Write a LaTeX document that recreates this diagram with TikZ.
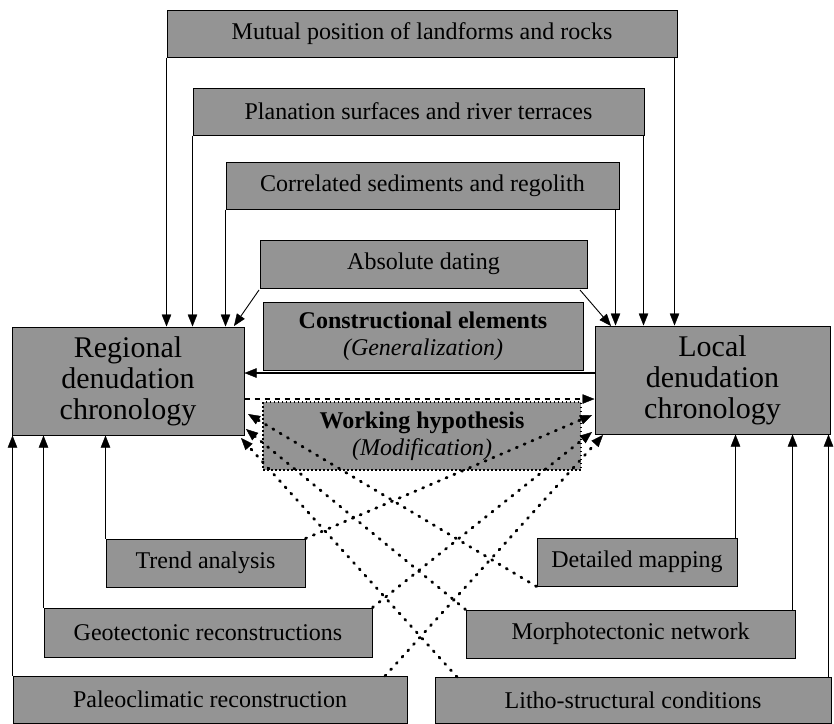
\documentclass[tikz,border=0pt]{standalone}
\usepackage{fontspec}
\setmainfont{Liberation Serif}
\usetikzlibrary{arrows.meta}
\begin{document}
\begin{tikzpicture}[x=1pt,y=-1pt,
  box/.style={draw=black, line width=1pt, fill=black!42, inner sep=0pt, align=center,
    font=\fontsize{24}{27.5}\selectfont},
  bigbox/.style={box, font=\fontsize{30}{31}\selectfont},
  tipA/.tip={Triangle[length=12pt,width=9.5pt,line width=0.4pt]},
  arr/.style={-tipA, line width=0.9pt},
  dotarr/.style={-tipA, line width=2.8pt, line cap=round, dash pattern=on 1.2pt off 7.3pt},
  dasharr/.style={-tipA, line width=2.8pt, dash pattern=on 5pt off 5pt},
]
\useasboundingbox (0,0) rectangle (834,723);
% boxes
\node[box, minimum width=510pt, minimum height=47pt] (mutual) at (422,33.5) {Mutual position of landforms and rocks};
\node[box, minimum width=451pt, minimum height=47pt] (plan) at (418.5,111.5) {Planation surfaces and river terraces};
\node[box, minimum width=393pt, minimum height=47pt] (corr) at (422.5,185.5) {Correlated sediments and regolith};
\node[box, minimum width=327pt, minimum height=48pt] (abs) at (423.5,264) {Absolute dating};
\node[box, minimum width=320pt, minimum height=68pt] (constr) at (423,336) {\textbf{Constructional elements}\\\textit{(Generalization)}};
\node[box, minimum width=318pt, minimum height=68pt, line width=1.6pt, dash pattern=on 1.5pt off 2.5pt] (work) at (422,436) {\textbf{Working hypothesis}\\\textit{(Modification)}};
\node[bigbox, minimum width=232pt, minimum height=108pt] (regional) at (128,381) {Regional\\denudation\\chronology};
\node[bigbox, minimum width=235pt, minimum height=108pt] (local) at (712.5,380) {Local\\denudation\\chronology};
\node[box, minimum width=199pt, minimum height=48pt] (trend) at (205.5,563) {Trend analysis};
\node[box, minimum width=200pt, minimum height=48pt] (detailed) at (637,562) {Detailed mapping};
\node[box, minimum width=328pt, minimum height=49pt] (geo) at (208,632.5) {Geotectonic reconstructions};
\node[box, minimum width=329pt, minimum height=48pt] (morpho) at (630.5,634) {Morphotectonic network};
\node[box, minimum width=394pt, minimum height=47pt] (paleo) at (210,699.5) {Paleoclimatic reconstruction};
\node[box, minimum width=396pt, minimum height=46pt] (litho) at (633,700) {Litho-structural conditions};
% helper coordinates
\coordinate (ysolid) at (0,373);
\coordinate (ydash) at (0,399);
\coordinate (absLend) at (234,326);
\coordinate (absRend) at (611,326);
\coordinate (absLs) at (259,290);
\coordinate (absRs) at (580,290);
\coordinate (tipTrend) at (592,415);
\coordinate (tipGeo) at (592,432);
\coordinate (tipPaleo) at (603,435);
\coordinate (tipDet) at (248,414);
\coordinate (tipMor) at (246,429);
\coordinate (tipLit) at (241,438);
\coordinate (paleoS) at (385,676);
\coordinate (lithoS) at (457,677);
% top arrows
\draw[arr] (mutual.south west) -- (mutual.south west |- regional.north);
\draw[arr] ([xshift=-3pt]mutual.south east) -- ([xshift=-3pt]mutual.south east |- local.north);
\draw[arr] (plan.south west) -- (plan.south west |- regional.north);
\draw[arr] ([xshift=-1pt]plan.south east) -- ([xshift=-1pt]plan.south east |- local.north);
\draw[arr] (corr.south west) -- (corr.south west |- regional.north);
\draw[arr] ([xshift=-4pt]corr.south east) -- ([xshift=-4pt]corr.south east |- local.north);
\draw[arr] (absLs) -- (absLend);
\draw[arr] (absRs) -- (absRend);
% middle arrows
\draw[arr, line width=1.8pt] (local.west |- ysolid) -- (regional.east |- ysolid);
\draw[dasharr] (regional.east |- ydash) -- (local.west |- ydash);
% bottom arrows
\draw[arr] (trend.north west) -- (trend.north west |- regional.south);
\draw[arr] (geo.north west) -- (geo.north west |- regional.south);
\draw[arr] (paleo.north west) -- (paleo.north west |- regional.south);
\draw[arr] ([xshift=-2pt]detailed.north east) -- ([xshift=-2pt]detailed.north east |- local.south);
\draw[arr] ([xshift=-3pt]morpho.north east) -- ([xshift=-3pt]morpho.north east |- local.south);
\draw[arr] ([xshift=-3pt]litho.north east) -- ([xshift=-3pt]litho.north east |- local.south);
% dotted arrows
\draw[dotarr] (trend.north east) -- (tipTrend);
\draw[dotarr] (geo.north east) -- (tipGeo);
\draw[dotarr] (paleoS) -- (tipPaleo);
\draw[dotarr] (detailed.south west) -- (tipDet);
\draw[dotarr] (morpho.north west) -- (tipMor);
\draw[dotarr] (lithoS) -- (tipLit);
\end{tikzpicture}
\end{document}
